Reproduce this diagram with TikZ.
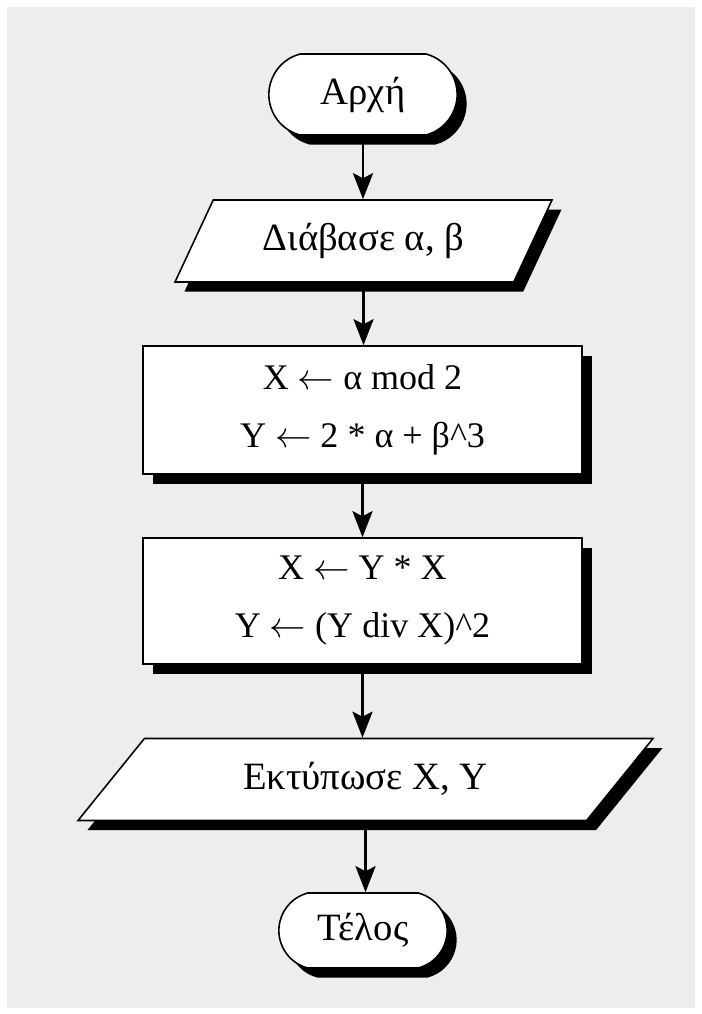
\documentclass[tikz,border=0pt]{standalone}
\usepackage{fontspec}
\setmainfont{Liberation Serif}
\usetikzlibrary{shapes.geometric, shapes.misc, shadows, arrows.meta}

\definecolor{paper}{HTML}{EDEDED}

\begin{document}
\begin{tikzpicture}[x=1cm, y=1cm, font=\fontsize{20.5}{33}\selectfont,
  shade/.style={drop shadow={shadow xshift=0.19cm, shadow yshift=-0.19cm,
                fill=black, opacity=1}},
  terminal/.style={draw, rounded rectangle, rounded rectangle arc length=150,
                   fill=white, line width=0.9pt, shade, font=\fontsize{22}{26}\selectfont},
  inout/.style={draw, trapezium, trapezium stretches body, fill=white,
                trapezium left angle=#1, trapezium right angle=180-#1,
                text height=0.52cm, text depth=0.14cm, inner ysep=0.49cm,
                line width=0.9pt, shade, font=\fontsize{22}{26}\selectfont},
  process/.style={draw, fill=white, minimum width=8.78cm, align=center,
                  line width=0.9pt, shade},
  flow/.style={-{Stealth[length=0.52cm, width=0.4cm, inset=0.1cm]}, line width=1.7pt}]
  \useasboundingbox (0,0) rectangle (14.02,-20.28);
  \fill[paper] (0.14,-0.14) rectangle (13.9,-20.16);

  \node[terminal, minimum width=4cm, minimum height=1.62cm] (start) at (7.26,-1.89) {Αρχή};
  \node[inout=65, minimum width=7.54cm] (read) at (7.27,-4.82)
    {Διάβασε α, β};
  \node[process, minimum height=2.56cm] (calc1) at (7.25,-8.20)
    {X $\leftarrow$ α mod 2\\ Y $\leftarrow$ 2 * α + β\textasciicircum 3};
  \node[process, minimum height=2.52cm] (calc2) at (7.25,-12.02)
    {X $\leftarrow$ Y * X\\ Y $\leftarrow$ (Y div X)\textasciicircum 2};
  \node[inout=51, minimum width=11.5cm] (print) at (7.31,-15.59)
    {Εκτύπωσε X, Y};
  \node[terminal, minimum width=3.6cm, minimum height=1.5cm] (stop) at (7.26,-18.61) {Τέλος};

  \draw[flow] (start.south) -- (start.south |- read.north);
  \draw[flow] (read.south) -- (read.south |- calc1.north);
  \draw[flow] (calc1.south) -- (calc1.south |- calc2.north);
  \draw[flow] (calc2.south) -- (calc2.south |- print.north);
  \draw[flow] (print.south) -- (print.south |- stop.north);
\end{tikzpicture}
\end{document}
